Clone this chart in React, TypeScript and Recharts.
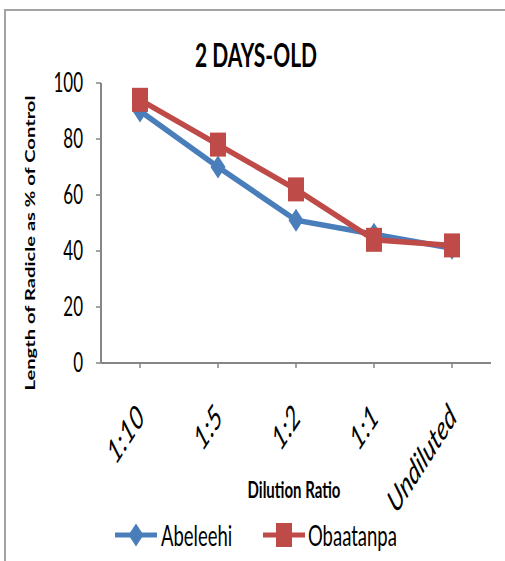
import { LineChart, Line, XAxis, YAxis } from "recharts"

const ratios = ["1:10", "1:5", "1:2", "1:1", "Undiluted"]
const abeleehi = [90, 70, 51, 46, 41]
const obaatanpa = [94, 78, 62, 44, 42]
const yTicks = [0, 20, 40, 60, 80, 100]

const BLUE = "#4a7ebb"
const RED = "#be4b48"
const AXIS = "#868686"
const FONT = 'Lato, "Open Sans", sans-serif'
// text is drawn taller than wide, like the original export
const STRETCH = 1.55

const data = ratios.map((ratio, i) => ({
  ratio,
  abeleehi: abeleehi[i],
  obaatanpa: obaatanpa[i],
}))

const series = [
  { key: "abeleehi", name: "Abeleehi", color: BLUE, shape: "diamond", lx: 115, tx: 161 },
  { key: "obaatanpa", name: "Obaatanpa", color: RED, shape: "square", lx: 263, tx: 308 },
]

function Marker({ cx, cy, shape, color }: { cx: number; cy: number; shape: string; color: string }) {
  if (shape === "diamond") {
    return (
      <path
        d={`M${cx},${cy - 11.5} L${cx + 7.5},${cy} L${cx},${cy + 11.5} L${cx - 7.5},${cy} Z`}
        fill={color}
      />
    )
  }
  return <rect x={cx - 8} y={cy - 12} width={16} height={24} fill={color} />
}

function ValueTick({ x, y, payload }: any) {
  return (
    <text
      transform={`translate(${x},${y}) scale(1,${STRETCH})`}
      textAnchor="end"
      dy="0.36em"
      fontSize={17}
      fontFamily={FONT}
      fill="#000"
    >
      {payload.value}
    </text>
  )
}

function RatioTick({ x, y, payload }: any) {
  return (
    <text
      transform={`translate(${x + 6},${y + 49}) scale(1,${STRETCH}) rotate(-45)`}
      textAnchor="end"
      fontStyle="italic"
      fontSize={21.5}
      fontFamily={FONT}
      fill="#000"
    >
      {payload.value}
    </text>
  )
}

export default function App() {
  return (
    <div style={{ position: "absolute", left: 0, top: 0, width: 505, height: 561, background: "#fff" }}>
      <LineChart
        width={505}
        height={561}
        data={data}
        margin={{ top: 83, right: 14, bottom: 168, left: 0 }}
      >
        <XAxis
          dataKey="ratio"
          height={30}
          padding={{ left: 39, right: 39 }}
          tickSize={5}
          tick={<RatioTick />}
          axisLine={{ stroke: AXIS, strokeWidth: 2 }}
          tickLine={{ stroke: AXIS, strokeWidth: 1.5 }}
          interval={0}
        />
        <YAxis
          width={101}
          domain={[0, 100]}
          ticks={yTicks}
          tickSize={5}
          tickMargin={13}
          tick={<ValueTick />}
          axisLine={{ stroke: AXIS, strokeWidth: 2 }}
          tickLine={{ stroke: AXIS, strokeWidth: 1.5 }}
        />
        {series.map((s) => (
          <Line
            key={s.key}
            dataKey={s.key}
            name={s.name}
            stroke={s.color}
            strokeWidth={5.5}
            isAnimationActive={false}
            dot={(p: any) => <Marker key={`${s.key}-${p.index}`} cx={p.cx} cy={p.cy} shape={s.shape} color={s.color} />}
            activeDot={false}
          />
        ))}
      </LineChart>
      <svg
        width={505}
        height={561}
        style={{ position: "absolute", left: 0, top: 0, pointerEvents: "none" }}
        fontFamily={FONT}
      >
        <path d="M5,561 L5,10 L505,10" fill="none" stroke="#a3a3a3" strokeWidth={2} />
        <text
          transform={`translate(256,67) scale(1,${STRETCH})`}
          textAnchor="middle"
          fontSize={21}
          fontWeight={700}
        >
          2 DAYS-OLD
        </text>
        <text
          transform={`translate(35,243) scale(1,${STRETCH}) rotate(-90)`}
          textAnchor="middle"
          fontSize={13}
          fontWeight={700}
        >
          Length  of Radicle as % of Control
        </text>
        <text
          transform={`translate(294,498) scale(1,${STRETCH})`}
          textAnchor="middle"
          fontSize={15}
          fontWeight={700}
        >
          Dilution Ratio
        </text>
        {series.map((s) => (
          <g key={s.key}>
            <line x1={s.lx} x2={s.lx + 42} y1={535} y2={535} stroke={s.color} strokeWidth={5} />
            <Marker cx={s.lx + 21} cy={535} shape={s.shape} color={s.color} />
            <text transform={`translate(${s.tx},546) scale(1,${STRETCH})`} fontSize={18.5}>
              {s.name}
            </text>
          </g>
        ))}
      </svg>
    </div>
  )
}
